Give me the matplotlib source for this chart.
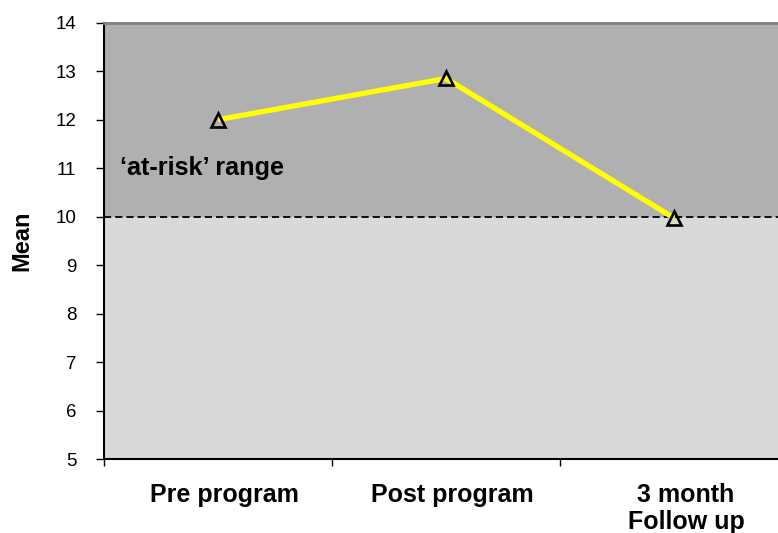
import matplotlib
matplotlib.use("Agg")
import matplotlib.pyplot as plt
from matplotlib.ticker import FixedLocator
from matplotlib.transforms import ScaledTranslation

plt.rcParams['font.family'] = ['Liberation Sans', 'DejaVu Sans']

categories = ["Pre program", "Post program", "3 month\nFollow up"]
means = [12.0, 12.85, 9.97]
risk_threshold = 10
y_ticks = [5, 6, 7, 8, 9, 10, 11, 12, 13, 14]

W, H = 778, 533
fig = plt.figure(figsize=(W / 100, H / 100), dpi=100)
left, right, top, bottom = 104, 788, 22.7, 459
ax = fig.add_axes([left / W, (H - bottom) / H, (right - left) / W, (bottom - top) / H])

x = list(range(len(categories)))
ax.set_xlim(-0.5, len(categories) - 0.5)
ax.set_ylim(y_ticks[0], y_ticks[-1])

# background bands: normal range below the threshold, 'at-risk' range above
ax.set_facecolor("#d9d9d9")
ax.axhspan(risk_threshold, y_ticks[-1], color="#b0b0b0", zorder=0, lw=0)
ax.axhline(risk_threshold, color="black", lw=1.3, ls=(0, (4, 2.2)), zorder=2)

ax.plot(x, means, color="#ffff00", lw=3.8, zorder=3, solid_capstyle="butt")
ax.plot(x, means, ls="none", marker="^", ms=10.5, mfc="none", mec="black", mew=1.9, zorder=4)

ax.text(-0.5 + 16 / 228, 11.0, "\u2018at-risk\u2019 range", fontsize=18.2, fontweight="bold",
        va="center", ha="left", color="black", zorder=5)

ax.set_yticks(y_ticks)
ax.set_yticklabels([str(v) for v in y_ticks], fontsize=13.5)
ax.tick_params(axis="y", direction="out", length=6, width=1, pad=14, colors="black")

ax.set_xticks(x)
ax.set_xticklabels(categories, fontsize=18, fontweight="bold", linespacing=1.2, va="top")
ax.tick_params(axis="x", which="major", length=0, pad=17)
ax.xaxis.set_minor_locator(FixedLocator([i - 0.5 for i in range(len(categories) + 1)]))
ax.tick_params(axis="x", which="minor", direction="out", length=5, width=1)

# nudge the category labels slightly to the right
for lbl, dx in zip(ax.get_xticklabels(), [6, 6, 12]):
    lbl.set_transform(lbl.get_transform() + ScaledTranslation(dx / 100, 0, fig.dpi_scale_trans))

ax.set_ylabel("Mean", fontsize=17, fontweight="bold", labelpad=16)

for side in ("left", "bottom"):
    ax.spines[side].set_color("black")
    ax.spines[side].set_linewidth(1.5)
ax.spines["top"].set_color("#808080")
ax.spines["top"].set_linewidth(2)
ax.spines["right"].set_visible(False)

fig.savefig("out.png", dpi=100)
